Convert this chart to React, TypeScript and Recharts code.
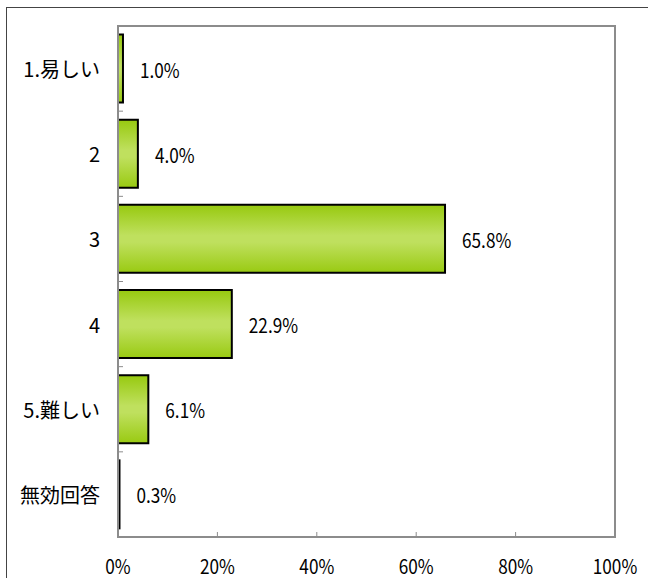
import {
  BarChart,
  Bar,
  XAxis,
  YAxis,
  LabelList,
  ReferenceArea,
} from "recharts";

const categories = ["1.易しい", "2", "3", "4", "5.難しい", "無効回答"];
const shares = [1.0, 4.0, 65.8, 22.9, 6.1, 0.3];
const xTicks = [0, 20, 40, 60, 80, 100];

const data = categories.map((name, i) => ({ name, value: shares[i] }));

const FONT = "'Noto Sans CJK JP', sans-serif";
const PLOT_TOP = 26;
const PLOT_BOTTOM = 537;
const BAND = (PLOT_BOTTOM - PLOT_TOP) / categories.length;
// digits in the original are narrow (half-width gothic), squeeze a bit
const SQUEEZE = 0.86;

// category label, plus the small boundary tick (excel style)
const CategoryTick = (props: any) => {
  const { x, y, payload, index } = props;
  return (
    <g>
      <text
        x={x - 18}
        y={y}
        textAnchor="end"
        dominantBaseline="central"
        fontSize={20}
        fontFamily={FONT}
        fill="#000"
      >
        {payload.value}
      </text>
      {index < categories.length - 1 && (
        <line
          x1={x}
          x2={x + 5}
          y1={y + BAND / 2}
          y2={y + BAND / 2}
          stroke="#8c8c8c"
          strokeWidth={1}
        />
      )}
    </g>
  );
};

const PercentTick = (props: any) => {
  const { x, y, payload, index } = props;
  return (
    <g>
      {index > 0 && index < xTicks.length - 1 && (
        <line x1={x} x2={x} y1={y} y2={y - 5} stroke="#8c8c8c" strokeWidth={1} />
      )}
      <text
        transform={`translate(${x},${y + 28}) scale(${SQUEEZE},1)`}
        textAnchor="middle"
        dominantBaseline="central"
        fontSize={20}
        fontFamily={FONT}
        fill="#000"
      >
        {payload.value}%
      </text>
    </g>
  );
};

const ValueLabel = (props: any) => {
  const { x, y, width, height, value } = props;
  return (
    <text
      transform={`translate(${x + width + 17},${y + height / 2}) scale(${SQUEEZE},1)`}
      textAnchor="start"
      dominantBaseline="central"
      fontSize={20}
      fontFamily={FONT}
      fill="#000"
    >
      {`${Number(value).toFixed(1)}%`}
    </text>
  );
};

export default function App() {
  return (
    <div
      style={{
        position: "absolute",
        left: 0,
        top: 0,
        width: 648,
        height: 578,
        overflow: "hidden",
        background: "#fff",
      }}
    >
      <div
        style={{
          position: "absolute",
          left: 6,
          top: 7,
          width: 700,
          height: 700,
          border: "1px solid #444",
        }}
      />
      <div style={{ position: "absolute", left: 0, top: 0 }}>
        <BarChart
          width={648}
          height={578}
          data={data}
          layout="vertical"
          margin={{ top: PLOT_TOP, right: 33, bottom: 11, left: 0 }}
          barCategoryGap="10%"
        >
          <defs>
            <linearGradient id="barGreen" x1="0" y1="0" x2="0" y2="1">
              <stop offset="0%" stopColor="#97c90f" />
              <stop offset="45%" stopColor="#bfe05e" />
              <stop offset="55%" stopColor="#bfe05e" />
              <stop offset="100%" stopColor="#99ca12" />
            </linearGradient>
          </defs>
          <ReferenceArea
            x1={0}
            x2={100}
            fill="none"
            stroke="#8c8c8c"
            strokeWidth={2}
            ifOverflow="visible"
          />
          <XAxis
            type="number"
            domain={[0, 100]}
            ticks={xTicks}
            height={30}
            tickLine={false}
            tickSize={0}
            tickMargin={0}
            axisLine={{ stroke: "#8c8c8c", strokeWidth: 2 }}
            tick={<PercentTick />}
            interval={0}
          />
          <YAxis
            type="category"
            dataKey="name"
            width={118}
            tickLine={false}
            tickSize={0}
            tickMargin={0}
            axisLine={{ stroke: "#8c8c8c", strokeWidth: 2 }}
            tick={<CategoryTick />}
            interval={0}
          />
          <Bar
            dataKey="value"
            fill="url(#barGreen)"
            stroke="#000"
            strokeWidth={2}
            isAnimationActive={false}
          >
            <LabelList dataKey="value" content={<ValueLabel />} />
          </Bar>
        </BarChart>
      </div>
    </div>
  );
}
